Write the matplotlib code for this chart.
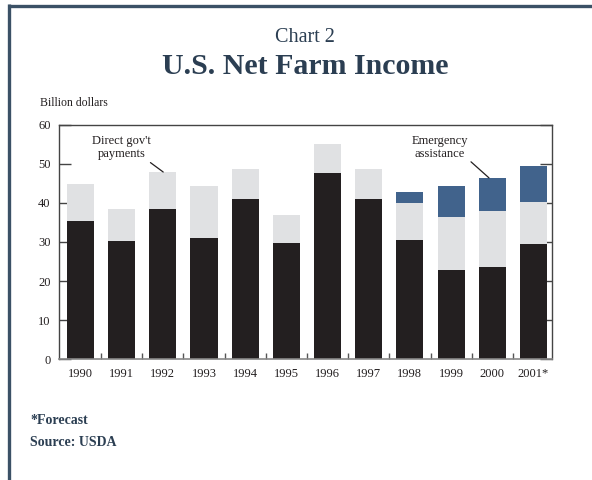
import numpy as np
import matplotlib.pyplot as plt
from matplotlib.lines import Line2D

# values (billion dollars)
years = ['1990', '1991', '1992', '1993', '1994', '1995', '1996', '1997',
         '1998', '1999', '2000', '2001*']
market = [35.4, 30.3, 38.4, 31.0, 41.0, 29.8, 47.7, 41.0, 30.5, 22.8, 23.6, 29.5]
direct = [9.4, 8.1, 9.5, 13.3, 7.6, 7.1, 7.4, 7.7, 9.5, 13.6, 14.3, 10.7]
emergency = [0, 0, 0, 0, 0, 0, 0, 0, 2.8, 7.9, 8.5, 9.2]

c_black = '#231f20'
c_gray = '#e0e1e3'
c_blue = '#41638c'
c_title = '#2b3e52'
c_frame = '#3b5166'

plt.rcParams['font.family'] = ['Liberation Serif', 'DejaVu Serif']

fig = plt.figure(figsize=(5.92, 4.8), dpi=100)
ax = fig.add_axes([59/592, 1-359.3/480, (552-59)/592, (359.3-124.7)/480])

x = np.arange(len(years))
market = np.array(market)
direct = np.array(direct)
emergency = np.array(emergency)
w = 0.66
ax.bar(x, market, w, color=c_black, zorder=2)
ax.bar(x, direct, w, bottom=market, color=c_gray, zorder=2)
ax.bar(x, emergency, w, bottom=market+direct, color=c_blue, zorder=2)

ax.set_xlim(-0.52, 11.45)
ax.set_ylim(0, 60)
ax.set_yticks(np.arange(0, 61, 10))
ax.set_xticks(x)
ax.set_xticklabels(years)
ax.set_xticks(x[:-1] + 0.5, minor=True)
ax.tick_params(axis='x', which='major', length=0, labelsize=9, pad=6, colors=c_black)
ax.tick_params(axis='x', which='minor', direction='in', length=4, width=1, color='#555555')
ax.tick_params(axis='y', which='major', direction='in', length=8.5, width=1,
               labelsize=9, right=True, color='#444444', labelcolor=c_black, pad=6)
for s in ['left', 'right', 'top']:
    ax.spines[s].set_color('#444444')
    ax.spines[s].set_linewidth(1)
ax.spines['bottom'].set_color('#888888')
ax.spines['bottom'].set_linewidth(1.2)

# annotations
ax.annotate("Direct gov't\npayments", xy=(2.01, market[2]+direct[2]),
            xytext=(1.0, 54.2), ha='center', va='center', fontsize=9,
            linespacing=1.1, color=c_black,
            arrowprops=dict(arrowstyle='-', color=c_black, lw=0.9,
                            shrinkA=0, shrinkB=0, relpos=(0.88, 0.08)))
ax.annotate("Emergency\nassistance", xy=(9.92, market[10]+direct[10]+emergency[10]),
            xytext=(8.73, 54.2), ha='center', va='center', fontsize=9,
            linespacing=1.1, color=c_black,
            arrowprops=dict(arrowstyle='-', color=c_black, lw=0.9,
                            shrinkA=0, shrinkB=0, relpos=(0.97, 0.08)))

fig.text(305/592, 1-38/480, 'Chart 2', ha='center', va='center', fontsize=14.5, color=c_title)
fig.text(305/592, 1-67/480, 'U.S. Net Farm Income', ha='center', va='center',
         fontsize=21.5, fontweight='bold', color=c_title)
fig.text(40/592, 1-103/480, 'Billion dollars', ha='left', va='center', fontsize=8.5, color=c_black)
fig.text(30/592, 1-421/480, '*Forecast', ha='left', va='center', fontsize=10,
         fontweight='bold', color=c_title)
fig.text(30/592, 1-443/480, 'Source: USDA', ha='left', va='center', fontsize=10,
         fontweight='bold', color=c_title)

# page frame (top and left edges)
fig.add_artist(Line2D([7.5/592, 1], [1-5.5/480, 1-5.5/480], color=c_frame, lw=2.4,
                      transform=fig.transFigure, solid_capstyle='butt'))
fig.add_artist(Line2D([8.8/592, 8.8/592], [1-4.3/480, 0], color=c_frame, lw=2.4,
                      transform=fig.transFigure, solid_capstyle='butt'))

fig.savefig('out.png', dpi=100)
